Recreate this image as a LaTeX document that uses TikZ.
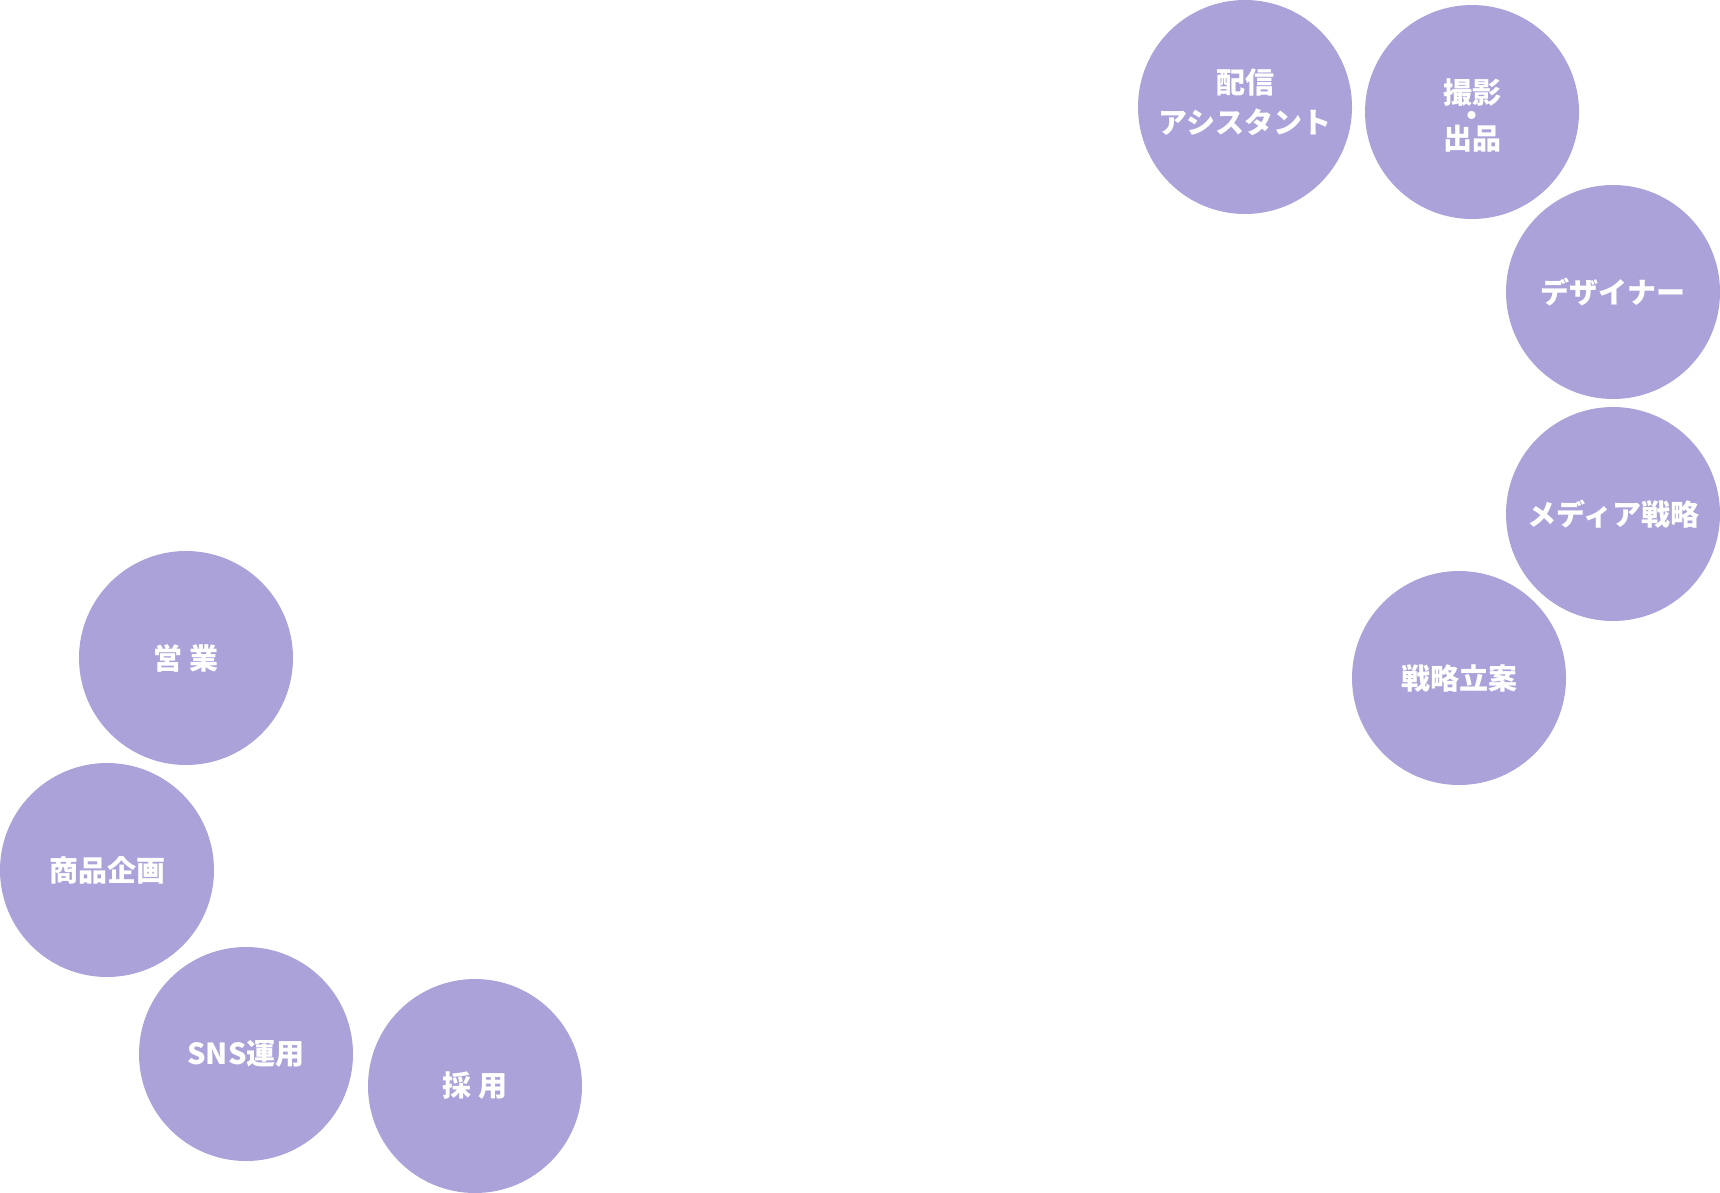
\documentclass[tikz,border=0pt]{standalone}
\usepackage{fontspec}
\newfontfamily\jpfont{Noto Sans CJK JP}
\definecolor{bubble}{HTML}{ACA2DA}
\newcommand\mytightlines{\lineskiplimit -100pt\relax}
\begin{document}
\begin{tikzpicture}[x=1pt,y=-1pt,
  bubblenode/.style={circle,fill=bubble,draw=none,minimum size=214pt,inner sep=0pt,
    text=white,align=center,font=\jpfont\bfseries\fontsize{29}{40}\selectfont},
  labelnode/.style={text=white,align=center,inner sep=0pt,
    font=\jpfont\bfseries\fontsize{29}{40}\selectfont\mytightlines}]
\useasboundingbox (0,0) rectangle (1720,1192);
% right group
\node[bubblenode] (haishin) at (1245,107) {};
\node[labelnode] (haishinT) at (1245,102) {配信\\アシスタント};
\node[bubblenode] (satsuei) at (1472,112) {};
\node[labelnode,font=\jpfont\bfseries\fontsize{29}{23}\selectfont\mytightlines] (satsueiT) at (1472,115) {撮影\\・\\出品};
\node[bubblenode] (designer) at (1613,292) {デザイナー};
\node[bubblenode] (media) at (1613,514) {メディア戦略};
\node[bubblenode] (senryaku) at (1459,678) {戦略立案};
% left group
\node[bubblenode] (eigyo) at (186,658) {営 業};
\node[bubblenode] (shohin) at (107,870) {商品企画};
\node[bubblenode] (sns) at (246,1054) {SNS運用};
\node[bubblenode] (saiyo) at (475,1086) {採 用};
\end{tikzpicture}
\end{document}
